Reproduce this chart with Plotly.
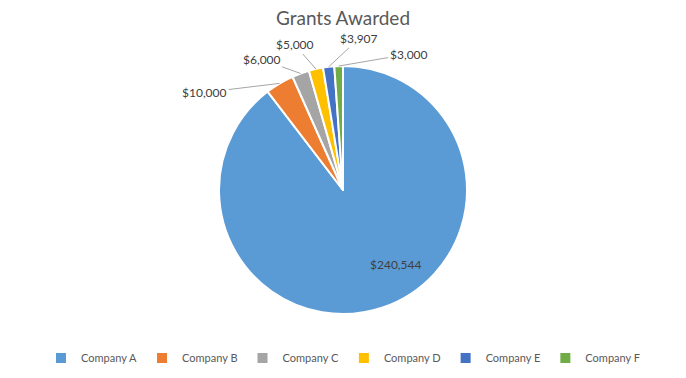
import math
import plotly.graph_objects as go

companies = ["Company A", "Company B", "Company C", "Company D", "Company E", "Company F"]
grants = [240544, 10000, 6000, 5000, 3907, 3000]
colors = ["#5B9BD5", "#ED7D31", "#A5A5A5", "#FFC000", "#4472C4", "#70AD47"]

# label text offsets (px) for the outside labels, slices B..F
label_offsets = [(-75, 9), (-39, -14), (-21, -24), (30, -28), (70, -12)]

W, H = 686, 378
cx, cy, r = 343, 190, 124
FONT = "Lato, Open Sans, sans-serif"

fig = go.Figure(go.Pie(
    labels=companies,
    values=grants,
    sort=False,
    direction="clockwise",
    rotation=0,
    marker=dict(colors=colors, line=dict(color="white", width=2)),
    textinfo="none",
    domain=dict(x=[(cx - r) / W, (cx + r) / W], y=[(H - cy - r) / H, (H - cy + r) / H]),
    hoverinfo="label+value",
))

total = sum(grants)
cum = 0
annotations = []
for i, v in enumerate(grants):
    mid = (cum + v / 2) / total * 2 * math.pi
    cum += v
    if i == 0:
        # inside label for the large slice
        ang = math.radians(148)
        rr = 0.8 * r
        annotations.append(dict(
            x=(cx + rr * math.sin(ang)) / W, y=1 - (cy - rr * math.cos(ang)) / H,
            xref="paper", yref="paper", text=f"${v:,}", showarrow=False,
            font=dict(family=FONT, size=12, color="#404040"),
        ))
        continue
    px = cx + r * math.sin(mid)
    py = cy - r * math.cos(mid)
    ax, ay = label_offsets[i - 1]
    annotations.append(dict(
        x=px / W, y=1 - py / H, xref="paper", yref="paper",
        text=f"${v:,}", showarrow=True, arrowhead=0, arrowwidth=1,
        arrowcolor="#A6A6A6", ax=ax, ay=ay, standoff=0,
        font=dict(family=FONT, size=12, color="#404040"),
    ))

fig.update_layout(
    width=W, height=H,
    margin=dict(l=0, r=0, t=0, b=0),
    paper_bgcolor="white",
    title=dict(text="Grants Awarded", x=0.5, xanchor="center", y=1 - 18 / H, yanchor="middle",
               font=dict(family=FONT, size=19, color="#595959")),
    legend=dict(orientation="h", x=0.5, xanchor="center", y=1 - 358 / H, yanchor="middle",
                font=dict(family=FONT, size=11, color="#595959"),
                itemwidth=30, traceorder="normal"),
    annotations=annotations,
    showlegend=True,
)

fig.write_html("out.html", config={"displayModeBar": False},
               post_script="document.body.style.margin='0';")
